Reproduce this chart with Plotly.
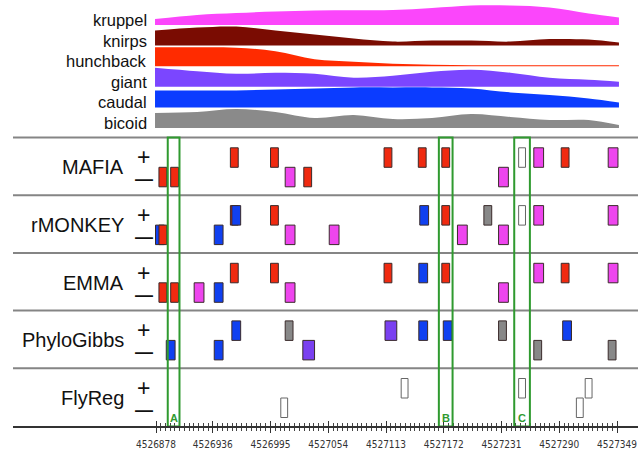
import numpy as np
import plotly.graph_objects as go

# ---------------- data ----------------
TF_NAMES = ["kruppel", "knirps", "hunchback", "giant", "caudal", "bicoid"]
TF_COLORS = {
    "kruppel": "#fb46fb",
    "knirps": "#7a0c02",
    "hunchback": "#ff2b00",
    "giant": "#7b46ff",
    "caudal": "#0b3cff",
    "bicoid": "#8a8a8a",
    "unknown": "#ffffff",
}
SITE_COLORS = {
    "kruppel": "#ee45ee",
    "hunchback": "#f02a10",
    "giant": "#7a40f0",
    "caudal": "#1040f0",
    "bicoid": "#888888",
    "unknown": "#ffffff",
}
MOTIF_LEN = {"kruppel": 10, "hunchback": 8, "giant": 12, "caudal": 9, "bicoid": 8, "unknown": 7}

# TF occupancy profiles (arbitrary units) along the region
PROFILE_POS = [4526877, 4526920, 4526960, 4527000, 4527040, 4527080, 4527120,
               4527160, 4527200, 4527240, 4527280, 4527320, 4527351]
KRUPPEL = [6, 10, 12, 13.5, 14.5, 14.8, 15, 17, 19.5, 19.5, 17.5, 11.5, 7.5]
KNIRPS = [15, 18, 19, 15, 11, 7, 4, 5, 5, 4, 6.5, 6, 3]
HUNCHBACK = [19, 19, 18.5, 15, 7, 4.5, 2.5, 1.5, 1, 1, 1, 1, 1]
GIANT = [19, 15.5, 13, 14, 13, 9, 11, 15, 17, 14, 9, 7, 5]
CAUDAL = [17, 17, 17, 18, 19, 20, 20, 20, 19, 15, 12.5, 9, 5]
BICOID = [15, 16, 19, 16, 10, 13, 9, 10, 14, 11, 8, 8, 3]
PROFILES = [KRUPPEL, KNIRPS, HUNCHBACK, GIANT, CAUDAL, BICOID]

TICK_VALUES = [4526878, 4526936, 4526995, 4527054, 4527113, 4527172, 4527231, 4527290, 4527349]
TICK_LABELS = [str(v) for v in TICK_VALUES]

METHODS = ["MAFIA", "rMONKEY", "EMMA", "PhyloGibbs", "FlyReg"]
MAFIA_SITES = [("hunchback", "-", 4526885), ("hunchback", "-", 4526897), ("hunchback", "+", 4526958),
               ("hunchback", "+", 4526999), ("kruppel", "-", 4527015), ("hunchback", "-", 4527033),
               ("hunchback", "+", 4527115), ("hunchback", "+", 4527150), ("hunchback", "+", 4527174),
               ("kruppel", "-", 4527233), ("unknown", "+", 4527252), ("kruppel", "+", 4527269),
               ("hunchback", "+", 4527296), ("kruppel", "+", 4527345)]
RMONKEY_SITES = [("caudal", "-", 4526882), ("hunchback", "-", 4526885), ("caudal", "-", 4526942),
                 ("hunchback", "+", 4526958), ("caudal", "+", 4526960), ("hunchback", "+", 4526999),
                 ("kruppel", "-", 4527015), ("kruppel", "-", 4527060), ("caudal", "+", 4527152),
                 ("hunchback", "+", 4527174), ("kruppel", "-", 4527191), ("bicoid", "+", 4527217),
                 ("kruppel", "-", 4527233), ("unknown", "+", 4527252), ("kruppel", "+", 4527269),
                 ("kruppel", "+", 4527345)]
EMMA_SITES = [("hunchback", "-", 4526885), ("hunchback", "-", 4526897), ("kruppel", "-", 4526922),
              ("caudal", "-", 4526942), ("hunchback", "+", 4526958), ("hunchback", "+", 4526999),
              ("kruppel", "-", 4527015), ("hunchback", "+", 4527115), ("caudal", "+", 4527151),
              ("hunchback", "+", 4527174), ("kruppel", "-", 4527233), ("kruppel", "+", 4527269),
              ("hunchback", "+", 4527296), ("kruppel", "+", 4527345)]
PHYLOGIBBS_SITES = [("caudal", "-", 4526893), ("caudal", "-", 4526942), ("caudal", "+", 4526960),
                    ("bicoid", "+", 4527014), ("giant", "-", 4527034), ("giant", "+", 4527118),
                    ("caudal", "+", 4527151), ("caudal", "+", 4527176), ("bicoid", "+", 4527232),
                    ("bicoid", "-", 4527268), ("caudal", "+", 4527298), ("bicoid", "-", 4527344)]
FLYREG_SITES = [("unknown", "-", 4527009), ("unknown", "+", 4527132), ("unknown", "+", 4527252),
                ("unknown", "-", 4527311), ("unknown", "+", 4527320)]
METHOD_SITES = [MAFIA_SITES, RMONKEY_SITES, EMMA_SITES, PHYLOGIBBS_SITES, FLYREG_SITES]

HIGHLIGHT_LABELS = ["A", "B", "C"]
HIGHLIGHT_START = [4526890, 4527167, 4527244]
HIGHLIGHT_END = [4526902, 4527181, 4527260]

# ---------------- layout geometry ----------------
W, H = 638, 451
BP_PER_PX = 471 / 461.0


def px_to_bp(px):
    return 4526878 + (px - 156) * BP_PER_PX


RIBBON_BASE = [25, 45.6, 66.2, 86.8, 107.4, 128]
ROW_TOPS = [137.5, 195.3, 253.0, 310.6, 368.2]
AXIS_Y = 426
BOX_H = 19.5
GREEN = "#2f9a2f"
TEXT_FONT = "Liberation Sans, Arial, Helvetica, sans-serif"

fig = go.Figure()

# ribbons
for name, base, prof in zip(TF_NAMES, RIBBON_BASE, PROFILES):
    fig.add_trace(go.Scatter(x=PROFILE_POS, y=[base] * len(PROFILE_POS), mode="lines",
                             line=dict(width=0), hoverinfo="skip", showlegend=False))
    fig.add_trace(go.Scatter(x=PROFILE_POS, y=[base - v for v in prof], mode="lines",
                             line=dict(width=0, shape="spline", smoothing=1.0),
                             fill="tonexty", fillcolor=TF_COLORS[name],
                             hoverinfo="skip", showlegend=False))

# binding sites
for mi, (method, sites) in enumerate(zip(METHODS, METHOD_SITES)):
    top = ROW_TOPS[mi]
    ordered = sorted(sites, key=lambda s: s[2] - MOTIF_LEN[s[0]] / 2)
    xs = [s[2] for s in ordered]
    widths = [MOTIF_LEN[s[0]] for s in ordered]
    bases = [top + (10.3 if s[1] == "+" else 10.3 + BOX_H) for s in ordered]
    colors = [SITE_COLORS[s[0]] for s in ordered]
    lcolors = ["#666666" if s[0] == "unknown" else "#3a2a2a" for s in ordered]
    fig.add_trace(go.Bar(x=xs, y=[BOX_H] * len(xs), base=bases, width=widths,
                         marker=dict(color=colors, line=dict(color=lcolors, width=1)),
                         hoverinfo="skip", showlegend=False, name=method))

# dummy trace for the overlay axis (inside ticks)
fig.add_trace(go.Scatter(x=[None], y=[None], xaxis="x2", showlegend=False, hoverinfo="skip"))

shapes = []
for t in ROW_TOPS:
    shapes.append(dict(type="line", xref="paper", yref="y", x0=0, x1=1, y0=t, y1=t,
                       line=dict(color="#858585", width=2), layer="below"))
for x0, x1 in zip(HIGHLIGHT_START, HIGHLIGHT_END):
    shapes.append(dict(type="rect", xref="x", yref="y", x0=x0, x1=x1, y0=ROW_TOPS[0], y1=AXIS_Y + 0.5,
                       line=dict(color=GREEN, width=2), fillcolor="rgba(0,0,0,0)", layer="above"))

ann = []
for name, base in zip(TF_NAMES, RIBBON_BASE):
    ann.append(dict(x=px_to_bp(149), y=base - 5, xref="x", yref="y", text=name, showarrow=False,
                    xanchor="right", yanchor="middle", font=dict(size=16.5, color="#111", family=TEXT_FONT)))
for method, top in zip(METHODS, ROW_TOPS):
    ann.append(dict(x=px_to_bp(126), y=top + 29.5, xref="x", yref="y", text=method, showarrow=False,
                    xanchor="right", yanchor="middle", font=dict(size=20, color="#111", family=TEXT_FONT)))
    ann.append(dict(x=px_to_bp(143.5), y=top + 19.5, xref="x", yref="y", text="+", showarrow=False,
                    xanchor="center", yanchor="middle", font=dict(size=23, color="#111", family=TEXT_FONT)))
    ann.append(dict(x=px_to_bp(143.5), y=top + 41.5, xref="x", yref="y", text="<b>\u2014</b>", showarrow=False,
                    xanchor="center", yanchor="middle", font=dict(size=18, color="#111", family=TEXT_FONT)))
for lab, x0, x1 in zip(HIGHLIGHT_LABELS, HIGHLIGHT_START, HIGHLIGHT_END):
    ann.append(dict(x=(x0 + x1) / 2, y=AXIS_Y - 8, xref="x", yref="y", text="<b>%s</b>" % lab,
                    showarrow=False, xanchor="center", yanchor="middle",
                    font=dict(size=11, color=GREEN, family=TEXT_FONT)))

minor_vals = []
for a, b in zip(TICK_VALUES[:-1], TICK_VALUES[1:]):
    minor_vals.extend(np.linspace(a, b, 13)[1:-1].tolist())

xr = [px_to_bp(13), px_to_bp(638)]
tick_font = dict(size=10, color="#333", family="Liberation Sans Narrow, Arial Narrow, DejaVu Sans Condensed, sans-serif")

fig.update_layout(
    width=W, height=H,
    margin=dict(l=13, r=0, t=0, b=25),
    paper_bgcolor="white", plot_bgcolor="white",
    barmode="overlay",
    showlegend=False,
    shapes=shapes, annotations=ann,
    xaxis=dict(range=xr, showgrid=False, zeroline=False, showline=True, linecolor="#333", linewidth=1.5,
               ticks="outside", ticklen=5, tickwidth=1, tickcolor="#333",
               tickmode="array", tickvals=TICK_VALUES, ticktext=TICK_LABELS, tickfont=tick_font,
               ticklabelstandoff=3,
               minor=dict(tickmode="array", tickvals=minor_vals, ticks="outside", ticklen=3,
                          tickwidth=1, tickcolor="#444", showgrid=False),
               fixedrange=True),
    xaxis2=dict(range=xr, overlaying="x", anchor="y", side="bottom", showgrid=False, zeroline=False,
                showline=False, ticks="inside", ticklen=5, tickwidth=1, tickcolor="#333",
                tickmode="array", tickvals=TICK_VALUES, showticklabels=False,
                minor=dict(tickmode="array", tickvals=minor_vals, ticks="inside", ticklen=3,
                           tickwidth=1, tickcolor="#444", showgrid=False),
                fixedrange=True),
    yaxis=dict(range=[AXIS_Y, 0], visible=False, fixedrange=True),
)

fig.write_html("out.html", config={"displayModeBar": False},
               post_script="document.body.style.margin='0';document.body.style.padding='0';")
